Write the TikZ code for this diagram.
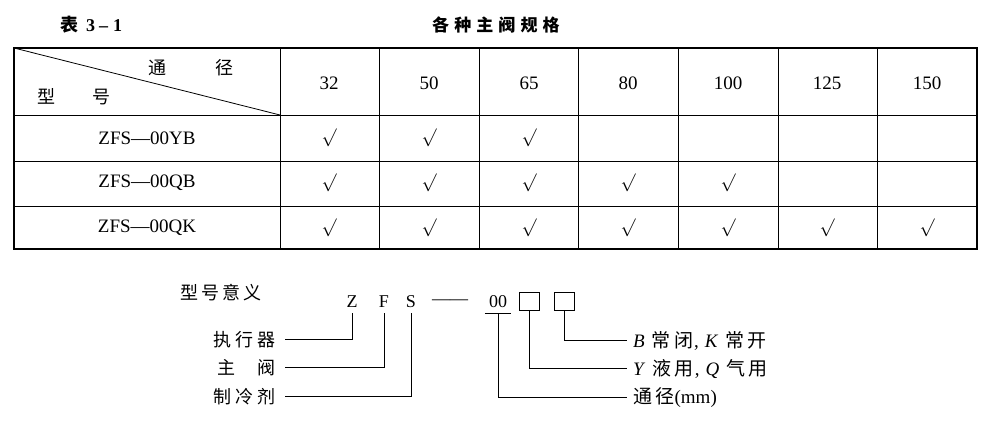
\RequirePackage{fix-cm}
\documentclass[tikz,border=0pt]{standalone}
\usepackage{fontspec}
\setmainfont{Liberation Serif}
\newfontfamily\cjk{Noto Sans CJK SC}
\tikzset{
  num/.style={font=\fontsize{19}{19}\selectfont, inner sep=0},
  chk/.style={font=\fontsize{18}{18}\selectfont, inner sep=0},
  head/.style={font=\fontsize{18}{18}\selectfont\cjk, inner sep=0},
  letter/.style={font=\fontsize{18}{18}\selectfont, inner xsep=0, inner ysep=5pt},
  tag/.style={draw, line width=1pt, minimum width=20pt, minimum height=18pt, inner sep=0},
  lname/.style={font=\fontsize{18}{18}\selectfont\cjk\addfontfeature{LetterSpace=22}, anchor=east, inner xsep=9pt, inner ysep=0},
  rname/.style={font=\fontsize{19}{19}\selectfont, anchor=west, inner xsep=6pt, inner ysep=0},
  lead/.style={line width=1pt},
  grid/.style={line width=0.9pt}
}
\newcommand{\zh}[1]{{\cjk\addfontfeature{LetterSpace=18}#1}}
\begin{document}
\begin{tikzpicture}[x=1pt,y=-1pt]
\useasboundingbox (0,0) rectangle (999,427);
\draw node[font=\fontsize{18}{18}\selectfont\bfseries, anchor=west, inner sep=0] (tno) at (60,25) {{\cjk 表}\hspace{8pt}3\hspace{4pt}–\hspace{5pt}1};
\draw node[font=\fontsize{17}{17}\selectfont\bfseries\cjk\addfontfeature{LetterSpace=30}, anchor=west, inner sep=0] (ttl) at (432,25) {各种主阀规格};
\draw[line width=1.6pt] (14,48) rectangle (977,249);
\draw[grid] (14,115) -- (977,115);
\draw[grid] (14,161) -- (977,161);
\draw[grid] (14,206) -- (977,206);
\draw[grid] (280,48) -- (280,249);
\draw[grid] (379,48) -- (379,249);
\draw[grid] (479,48) -- (479,249);
\draw[grid] (578,48) -- (578,249);
\draw[grid] (678,48) -- (678,249);
\draw[grid] (778,48) -- (778,249);
\draw[grid] (877,48) -- (877,249);
\draw[line width=0.8pt] (14,48) -- (280,115);
\draw node[head] (htj) at (191,68) {通\hspace{50pt}径};
\draw node[head] (hxh) at (74,97) {型\hspace{37pt}号};
\draw node[num] (h32) at (329,83) {32};
\draw node[num] (h50) at (429,83) {50};
\draw node[num] (h65) at (529,83) {65};
\draw node[num] (h80) at (628,83) {80};
\draw node[num] (h100) at (728,83) {100};
\draw node[num] (h125) at (827,83) {125};
\draw node[num] (h150) at (927,83) {150};
\draw node[num] (ryb) at (147,138) {ZFS—00YB};
\draw node[num] (rqb) at (147,183) {ZFS—00QB};
\draw node[num] (rqk) at (147,228) {ZFS—00QK};
\draw node[chk] (yb32) at (329,138) {$\surd$};
\draw node[chk] (yb50) at (429,138) {$\surd$};
\draw node[chk] (yb65) at (529,138) {$\surd$};
\draw node[chk] (qb32) at (329,183) {$\surd$};
\draw node[chk] (qb50) at (429,183) {$\surd$};
\draw node[chk] (qb65) at (529,183) {$\surd$};
\draw node[chk] (qb80) at (628,183) {$\surd$};
\draw node[chk] (qb100) at (728,183) {$\surd$};
\draw node[chk] (qk32) at (329,228) {$\surd$};
\draw node[chk] (qk50) at (429,228) {$\surd$};
\draw node[chk] (qk65) at (529,228) {$\surd$};
\draw node[chk] (qk80) at (628,228) {$\surd$};
\draw node[chk] (qk100) at (728,228) {$\surd$};
\draw node[chk] (qk125) at (827,228) {$\surd$};
\draw node[chk] (qk150) at (927,228) {$\surd$};
\draw node[font=\fontsize{18}{18}\selectfont\cjk\addfontfeature{LetterSpace=18}, anchor=west, inner sep=0] (mean) at (180,293) {型号意义};
\draw node[letter] (lz) at (352,302) {Z};
\draw node[letter] (lf) at (384,302) {F};
\draw node[letter] (ls) at (411,302) {S};
\draw node[font=\fontsize{18}{18}\selectfont, inner sep=0] (dash) at (450,302) {——};
\draw node[letter, inner xsep=4pt] (n00) at (498,302) {00};
\draw[lead] (n00.south west) -- (n00.south east);
\draw node[tag] (bx1) at (529,302) {};
\draw node[tag] (bx2) at (564,302) {};
\draw node[lname] (lexec) at (285,340) {执行器};
\draw node[lname] (lmain) at (285,368) {主\hspace{22pt}阀};
\draw node[lname] (lref) at (285,397) {制冷剂};
\draw[lead] (lexec.east) -| (lz.south);
\draw[lead] (lmain.east) -| (lf.south);
\draw[lead] (lref.east) -| (ls.south);
\draw node[rname] (lbk) at (627,341) {\textit{B}\hspace{7pt}\zh{常闭}\hspace{1pt},\hspace{6pt}\textit{K}\hspace{7pt}\zh{常开}};
\draw node[rname] (lyq) at (627,369) {\textit{Y}\hspace{7pt}\zh{液用}\hspace{1pt},\hspace{6pt}\textit{Q}\hspace{7pt}\zh{气用}};
\draw node[rname] (ldia) at (627,398) {\zh{通径}(mm)};
\draw[lead] (bx2.south) |- (lbk.west);
\draw[lead] (bx1.south) |- (lyq.west);
\draw[lead] (n00.south) |- (ldia.west);
\end{tikzpicture}
\end{document}
